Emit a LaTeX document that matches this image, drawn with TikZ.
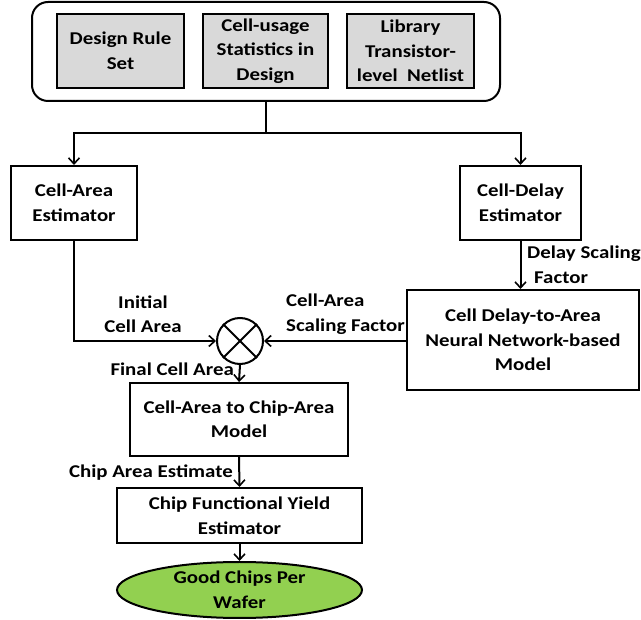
\documentclass[tikz,border=0pt]{standalone}
\usepackage{fontspec}
\setmainfont{Carlito}[FakeStretch=1.16]
\usetikzlibrary{arrows.meta,shapes.geometric}
\definecolor{inbox}{HTML}{D9D9D9}
\definecolor{goodgreen}{HTML}{92D050}
\tikzset{
  every node/.style={font=\fontsize{18}{24.5}\selectfont\bfseries, inner sep=0pt},
  blk/.style={draw, line width=2pt, align=center},
  srcbox/.style={blk, fill=inbox, minimum width=125pt, minimum height=74pt},
  lbl/.style={align=center},
  arr/.style={line width=2pt, -{Straight Barb[length=6pt,width=11pt,line width=1.6pt]}},
  ln/.style={line width=2pt}
}
\begin{document}
\begin{tikzpicture}[x=1pt,y=-1pt]
\useasboundingbox (0,0) rectangle (641,620);

% input group
\node[draw, line width=2pt, rounded corners=16pt, minimum width=468pt, minimum height=99pt] (src) at (266,51.5) {};
\node[srcbox, minimum width=127pt] (drs) at (120.5,51) {Design Rule\\Set};
\node[srcbox] (cus) at (265.5,51) {Cell-usage\\Statistics in\\Design};
\node[srcbox, minimum width=127pt] (lib) at (410.5,51) {Library\\Transistor-\\level\ \ Netlist};

% estimators
\node[blk, minimum width=126pt, minimum height=74pt] (cae) at (74,203) {Cell-Area\\Estimator};
\node[blk, minimum width=121pt, minimum height=74pt] (cde) at (520.5,203) {Cell-Delay\\Estimator};
\node[blk, minimum width=232pt, minimum height=100pt] (nn) at (523,340) {Cell Delay-to-Area\\Neural Network-based\\Model};

% multiplier
\node[draw, circle, line width=2pt, minimum size=46pt] (mul) at (240,341) {};
\draw[ln] (mul.north west) -- (mul.south east);
\draw[ln] (mul.north east) -- (mul.south west);

% chip-level models
\node[blk, minimum width=218pt, minimum height=73pt] (c2c) at (239,419.5) {Cell-Area to Chip-Area\\Model};
\node[blk, minimum width=245pt, minimum height=55pt] (yld) at (239.5,515.5) {Chip Functional Yield\\Estimator};
\node[draw, ellipse, line width=2pt, fill=goodgreen, minimum width=245pt, minimum height=56pt, align=center] (good) at (239.5,590) {Good Chips Per\\Wafer};

% connectors
\coordinate (split) at (266,133);
\draw[ln] (src.south) -- (split);
\draw[arr] (split) -| (cae.north);
\draw[arr] (split) -| (cde.north);
\draw[arr] (cae.south) |- (mul.west);
\draw[arr] (cde.south) -- (cde.south |- nn.north);
\draw[arr] (mul.east -| nn.west) -- (mul.east);
\draw[arr] (mul.south) -- (c2c.north);
\draw[arr] (c2c.south) -- (yld.north);
\draw[arr] (yld.south) -- (good.north);

% connector labels
\node[align=left, anchor=west] (dsf) at (527,265) {Delay Scaling\\\hspace*{7pt}Factor};
\node[lbl] (ica) at (143,314) {Initial\\Cell Area};
\node[align=left, anchor=west] (casf) at (286,314) {Cell-Area\\Scaling Factor};
\node[anchor=east] (fca) at (234,369) {Final Cell Area};
\node[anchor=east] (cae2) at (233,473) {Chip Area Estimate};
\end{tikzpicture}
\end{document}
